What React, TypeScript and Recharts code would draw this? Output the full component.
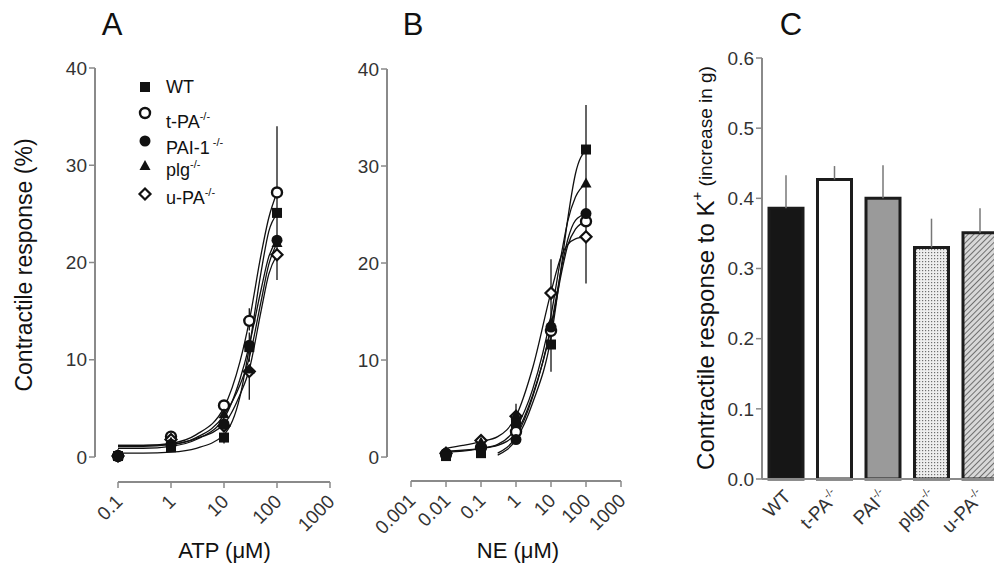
import React from 'react';
import {
  ComposedChart,
  Line,
  Scatter,
  XAxis,
  YAxis,
  ReferenceLine,
  ErrorBar,
  BarChart,
  Bar,
  Cell,
} from 'recharts';

const FONT = '"Liberation Sans", Arial, Helvetica, sans-serif';
const AXIS = '#8a8a8a';
const INK = '#111111';
const TXT = '#333333';

type Err = [number, number] | null;

// ---------- panel A: ATP ----------
const atpDoses = [0.1, 1, 10, 30, 100];
const atpWT = [0.1, 1.0, 2.0, 11.3, 25.1];
const atpTPA = [0.1, 2.1, 5.3, 14.0, 27.2];
const atpPAI1 = [0.1, 1.3, 3.4, 11.5, 22.3];
const atpPlg = [0.1, 1.5, 4.4, 9.0, 22.0];
const atpUPA = [0.1, 1.8, 3.2, 8.8, 20.8];
// SEM as [below, above]
const atpErrWT: Err[] = [null, null, [0.6, 0.3], [1.5, 1.5], [6.9, 8.9]];
const atpErrTPA: Err[] = [null, null, null, [1.0, 1.3], null];
const atpErrUPA: Err[] = [null, null, null, [2.9, 0.5], null];

// fitted curves
const atpCurveDoses = [0.1, 0.3, 1, 3, 10, 20, 30, 50, 70, 100];
const atpCurveWT = [0.4, 0.4, 0.5, 0.9, 2.3, 6.2, 11.3, 19.0, 23.2, 25.0];
const atpCurveTPA = [1.2, 1.2, 1.4, 2.3, 5.1, 9.8, 14.0, 20.8, 24.6, 27.2];
const atpCurvePAI1 = [0.9, 0.9, 1.1, 1.8, 4.0, 8.0, 11.5, 17.2, 20.6, 22.3];
const atpCurvePlg = [1.2, 1.2, 1.3, 2.0, 4.3, 7.4, 10.2, 16.0, 19.8, 22.0];
const atpCurveUPA = [1.1, 1.1, 1.3, 1.9, 3.4, 6.4, 9.0, 15.0, 18.8, 20.8];

// ---------- panel B: NE ----------
const neDoses = [0.01, 0.1, 1, 10, 100];
const neWT = [0.1, 0.4, 3.5, 11.6, 31.7];
const neTPA = [0.3, 1.0, 2.6, 13.0, 24.3];
const nePAI1 = [0.4, 0.9, 1.8, 13.4, 25.1];
const nePlg = [0.4, 1.5, 4.3, 13.8, 28.2];
const neUPA = [0.4, 1.7, 4.2, 16.9, 22.7];
const neErrWT: Err[] = [null, null, null, null, [13.8, 4.6]];
const neErrPlg: Err[] = [null, null, [0.5, 1.2], [5.0, 6.6], null];

const neCurveDoses = [0.01, 0.03, 0.1, 0.3, 1, 3, 10, 20, 30, 50, 100];
const neCurveWT = [null, null, null, 0.2, 1.8, 5.6, 12.3, 19.8, 24.5, 29.2, 31.7];
const neCurveTPA = [0.6, 0.7, 0.9, 1.2, 2.5, 6.4, 13.2, 19.0, 21.8, 23.5, 24.3];
const neCurvePAI1 = [null, null, null, 0.4, 2.1, 6.2, 13.5, 19.5, 22.4, 24.4, 25.1];
const neCurvePlg = [0.5, 0.6, 0.9, 1.3, 3.0, 7.0, 14.6, 21.0, 24.3, 26.8, 28.2];
const neCurveUPA = [0.9, 1.2, 1.6, 2.1, 4.2, 9.2, 17.0, 20.8, 21.9, 22.5, 22.7];

const atpTicks = [0.1, 1, 10, 100, 1000];
const neTicks = [0.001, 0.01, 0.1, 1, 10, 100, 1000];
const responseTicks = [0, 10, 20, 30, 40];

// ---------- panel C: K+ ----------
const kGroups = ['WT', 't-PA', 'PAI', 'plgn', 'u-PA'];
const kKnockout = [false, true, true, true, true];
const kResponse = [0.386, 0.427, 0.4, 0.33, 0.351];
const kSem = [0.047, 0.019, 0.047, 0.041, 0.035];
const kTicks = [0, 0.1, 0.2, 0.3, 0.4, 0.5, 0.6];
const kFills = ['#161616', '#ffffff', '#9a9a9a', 'url(#kDots)', 'url(#kHatch)'];

const pts = (xs: number[], ys: (number | null)[], errs?: Err[]) =>
  xs.map((x, i) => ({ x, y: ys[i], err: errs && errs[i] ? errs[i] : undefined }));

const kData = kGroups.map((group, i) => ({
  group,
  value: kResponse[i],
  err: [0, kSem[i]],
}));

// ---------- markers ----------
const SquareMark = (p: any) => (
  <rect x={p.cx - 5} y={p.cy - 5} width={10} height={10} fill={INK} />
);
const OpenCircleMark = (p: any) => (
  <circle cx={p.cx} cy={p.cy} r={5} fill="#fff" stroke={INK} strokeWidth={2.4} />
);
const DotMark = (p: any) => <circle cx={p.cx} cy={p.cy} r={5.5} fill={INK} />;
const TriangleMark = (p: any) => (
  <polygon
    points={`${p.cx},${p.cy - 6} ${p.cx + 5.5},${p.cy + 4} ${p.cx - 5.5},${p.cy + 4}`}
    fill={INK}
  />
);
const DiamondMark = (p: any) => (
  <polygon
    points={`${p.cx},${p.cy - 5.5} ${p.cx + 5.5},${p.cy} ${p.cx},${p.cy + 5.5} ${p.cx - 5.5},${p.cy}`}
    fill="#fff"
    stroke={INK}
    strokeWidth={2.2}
  />
);

const atpSeries = [
  { name: 't-PA', data: pts(atpDoses, atpTPA, atpErrTPA), shape: OpenCircleMark },
  { name: 'u-PA', data: pts(atpDoses, atpUPA, atpErrUPA), shape: DiamondMark },
  { name: 'plg', data: pts(atpDoses, atpPlg), shape: TriangleMark },
  { name: 'PAI-1', data: pts(atpDoses, atpPAI1), shape: DotMark },
  { name: 'WT', data: pts(atpDoses, atpWT, atpErrWT), shape: SquareMark },
];
const atpCurves = [
  { name: 'WT', data: pts(atpCurveDoses, atpCurveWT) },
  { name: 't-PA', data: pts(atpCurveDoses, atpCurveTPA) },
  { name: 'PAI-1', data: pts(atpCurveDoses, atpCurvePAI1) },
  { name: 'plg', data: pts(atpCurveDoses, atpCurvePlg) },
  { name: 'u-PA', data: pts(atpCurveDoses, atpCurveUPA) },
];

const neSeries = [
  { name: 'u-PA', data: pts(neDoses, neUPA), shape: DiamondMark },
  { name: 't-PA', data: pts(neDoses, neTPA), shape: OpenCircleMark },
  { name: 'PAI-1', data: pts(neDoses, nePAI1), shape: DotMark },
  { name: 'plg', data: pts(neDoses, nePlg, neErrPlg), shape: TriangleMark },
  { name: 'WT', data: pts(neDoses, neWT, neErrWT), shape: SquareMark },
];
const neCurves = [
  { name: 'WT', data: pts(neCurveDoses, neCurveWT) },
  { name: 't-PA', data: pts(neCurveDoses, neCurveTPA) },
  { name: 'PAI-1', data: pts(neCurveDoses, neCurvePAI1) },
  { name: 'plg', data: pts(neCurveDoses, neCurvePlg) },
  { name: 'u-PA', data: pts(neCurveDoses, neCurveUPA) },
];

// ---------- axis bits ----------
const SlantTick = (p: any) => (
  <g transform={`translate(${p.x + 1},${p.y + 8})`}>
    <text
      transform="rotate(-45)"
      textAnchor="end"
      dy="0.35em"
      fontSize={19}
      fill={TXT}
      fontFamily={FONT}
    >
      {String(p.payload.value)}
    </text>
  </g>
);

const GroupTick = (p: any) => (
  <g transform={`translate(${p.x + 1},${p.y + 6})`}>
    <text
      transform="rotate(-45)"
      textAnchor="end"
      dy="0.35em"
      fontSize={19}
      fill={TXT}
      fontFamily={FONT}
    >
      {p.payload.value}
      {kKnockout[p.index] && (
        <tspan fontSize={11} dy={-8}>
          -/-
        </tspan>
      )}
    </text>
  </g>
);

const XTitle = (p: any) => {
  const vb = p.viewBox;
  return (
    <text
      x={vb.x + vb.width / 2 + p.shift}
      y={vb.y + vb.height - 4}
      textAnchor="middle"
      fontSize={22}
      fill={INK}
      fontFamily={FONT}
    >
      {p.text}
    </text>
  );
};

const ResponseTitle = (p: any) => {
  const vb = p.viewBox;
  const cx = vb.x + 19;
  const cy = 265;
  return (
    <text
      x={cx}
      y={cy}
      transform={`rotate(-90 ${cx} ${cy})`}
      textAnchor="middle"
      dominantBaseline="central"
      fontSize={23}
      fill={INK}
      fontFamily={FONT}
    >
      Contractile response (%)
    </text>
  );
};

const KTitle = (p: any) => {
  const vb = p.viewBox;
  const cx = vb.x + 33;
  const cy = 268;
  return (
    <text
      x={cx}
      y={cy}
      transform={`rotate(-90 ${cx} ${cy})`}
      textAnchor="middle"
      dominantBaseline="central"
      fontSize={24}
      fill={INK}
      fontFamily={FONT}
    >
      Contractile response to K
      <tspan fontSize={15} dy={-9}>
        +
      </tspan>
      <tspan fontSize={19} dy={9}>
        {' '}(increase in g)
      </tspan>
    </text>
  );
};

interface DosePanelProps {
  left: number;
  marginTop: number;
  marginRight: number;
  axisHeight: number;
  xDomain: [number, number];
  xTicks: number[];
  yDomain: [number, number];
  series: { name: string; data: any[]; shape: any }[];
  curves: { name: string; data: any[] }[];
  xTitle: string;
  xTitleShift: number;
  showYTitle?: boolean;
}

function DosePanel({
  left,
  marginTop,
  marginRight,
  axisHeight,
  xDomain,
  xTicks,
  yDomain,
  series,
  curves,
  xTitle,
  xTitleShift,
  showYTitle,
}: DosePanelProps) {
  return (
    <div style={{ position: 'absolute', left, top: 0 }}>
      <ComposedChart
        width={360}
        height={568}
        margin={{ top: marginTop, right: marginRight, bottom: 6, left: 5 }}
      >
        <XAxis
          dataKey="x"
          type="number"
          scale="log"
          domain={xDomain}
          allowDataOverflow
          ticks={xTicks}
          interval={0}
          height={axisHeight}
          axisLine={false}
          tickLine={{ stroke: AXIS, strokeWidth: 1.5 }}
          tickSize={6}
          tick={<SlantTick />}
          label={<XTitle text={xTitle} shift={xTitleShift} />}
        />
        <YAxis
          dataKey="y"
          type="number"
          domain={yDomain}
          allowDataOverflow
          ticks={responseTicks}
          interval={0}
          width={90}
          axisLine={false}
          tickLine={{ stroke: AXIS, strokeWidth: 1.5 }}
          tickSize={6}
          tick={{ fill: TXT, fontSize: 19, fontFamily: FONT }}
          label={showYTitle ? <ResponseTitle /> : undefined}
        />
        <ReferenceLine
          segment={[
            { x: xDomain[0], y: 0 },
            { x: xDomain[0], y: 40 },
          ]}
          stroke={AXIS}
          strokeWidth={2}
          ifOverflow="visible"
        />
        <ReferenceLine
          segment={[
            { x: xTicks[0], y: yDomain[0] },
            { x: xTicks[xTicks.length - 1], y: yDomain[0] },
          ]}
          stroke={AXIS}
          strokeWidth={2}
          ifOverflow="visible"
        />
        {curves.map((c) => (
          <Line
            key={'c-' + c.name}
            data={c.data}
            dataKey="y"
            type="monotone"
            stroke={INK}
            strokeWidth={1.3}
            dot={false}
            activeDot={false}
            connectNulls={false}
            isAnimationActive={false}
          />
        ))}
        {series.map((s) => (
          <Scatter
            key={'s-' + s.name}
            data={s.data}
            shape={s.shape}
            isAnimationActive={false}
          >
            <ErrorBar dataKey="err" direction="y" width={0} stroke={INK} strokeWidth={1.3} />
          </Scatter>
        ))}
      </ComposedChart>
    </div>
  );
}

function Legend() {
  const rows = [
    { label: 'WT', sup: '', my: 87, ty: 93, Mark: SquareMark },
    { label: 't-PA', sup: '-/-', my: 113, ty: 128, Mark: OpenCircleMark },
    { label: 'PAI-1', sup: ' -/-', my: 141, ty: 154, Mark: DotMark },
    { label: 'plg', sup: '-/-', my: 166, ty: 176, Mark: TriangleMark },
    { label: 'u-PA', sup: '-/-', my: 194, ty: 204, Mark: DiamondMark },
  ];
  return (
    <g fontFamily={FONT} fontSize={18} fill={INK}>
      {rows.map(({ label, sup, my, ty, Mark }) => (
        <g key={label}>
          <Mark cx={145} cy={my} />
          <text x={166} y={ty}>
            {label}
            {sup && (
              <tspan fontSize={11} dy={-8}>
                {sup}
              </tspan>
            )}
          </text>
        </g>
      ))}
    </g>
  );
}

export default function App() {
  return (
    <div
      style={{
        position: 'fixed',
        left: 0,
        top: 0,
        width: 994,
        height: 568,
        overflow: 'hidden',
        background: '#fff',
        fontFamily: FONT,
      }}
    >
      <DosePanel
        left={0}
        marginTop={68}
        marginRight={30}
        axisHeight={80}
        xDomain={[0.0368, 1000]}
        xTicks={atpTicks}
        yDomain={[-2.57, 40]}
        series={atpSeries}
        curves={atpCurves}
        xTitle="ATP (μM)"
        xTitleShift={12}
        showYTitle
      />
      <DosePanel
        left={292}
        marginTop={69}
        marginRight={31}
        axisHeight={81}
        xDomain={[0.000206, 1000]}
        xTicks={neTicks}
        yDomain={[-2.47, 40]}
        series={neSeries}
        curves={neCurves}
        xTitle="NE (μM)"
        xTitleShift={14}
      />
      <div style={{ position: 'absolute', left: 670, top: 0 }}>
        <BarChart
          width={340}
          height={568}
          data={kData}
          margin={{ top: 58, right: 5.5, bottom: 19, left: 2 }}
        >
          <defs>
            <pattern id="kDots" width="3" height="3" patternUnits="userSpaceOnUse">
              <rect width="3" height="3" fill="#eeeeee" />
              <rect x="0" y="0" width="1.2" height="1.2" fill="#6f6f6f" />
            </pattern>
            <pattern
              id="kHatch"
              width="4"
              height="4"
              patternUnits="userSpaceOnUse"
              patternTransform="rotate(45)"
            >
              <rect width="4" height="4" fill="#d8d8d8" />
              <line x1="0" y1="0" x2="0" y2="4" stroke="#555" strokeWidth="1.6" />
            </pattern>
          </defs>
          <XAxis
            dataKey="group"
            height={70}
            interval={0}
            axisLine={{ stroke: AXIS, strokeWidth: 2 }}
            tickLine={false}
            tick={<GroupTick />}
          />
          <YAxis
            type="number"
            domain={[0, 0.6]}
            ticks={kTicks}
            interval={0}
            width={90}
            axisLine={{ stroke: AXIS, strokeWidth: 2 }}
            tickLine={{ stroke: AXIS, strokeWidth: 1.5 }}
            tickSize={6}
            tickFormatter={(v: number) => v.toFixed(1)}
            tick={{ fill: TXT, fontSize: 19, fontFamily: FONT }}
            label={<KTitle />}
          />
          <Bar
            dataKey="value"
            barSize={34}
            stroke="#1c1c1c"
            strokeWidth={3}
            isAnimationActive={false}
          >
            {kData.map((d, i) => (
              <Cell key={d.group} fill={kFills[i]} />
            ))}
            <ErrorBar dataKey="err" direction="y" width={0} stroke="#777" strokeWidth={1.5} />
          </Bar>
        </BarChart>
      </div>
      <svg
        width={994}
        height={568}
        style={{ position: 'absolute', left: 0, top: 0, pointerEvents: 'none' }}
      >
        <g fontFamily={FONT} fontSize={31} fill={INK} textAnchor="middle">
          <text x={112} y={35}>A</text>
          <text x={413} y={35}>B</text>
          <text x={791} y={35}>C</text>
        </g>
        <Legend />
      </svg>
    </div>
  );
}
